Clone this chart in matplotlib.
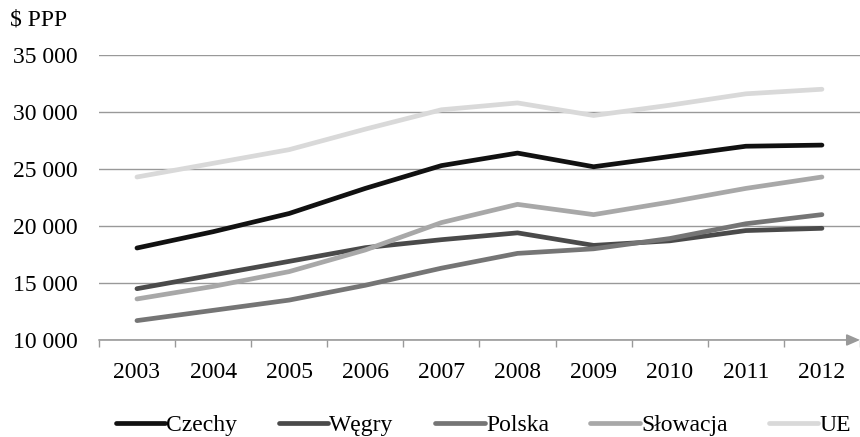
import matplotlib.pyplot as plt
import numpy as np

years = ["2003", "2004", "2005", "2006", "2007", "2008", "2009", "2010", "2011", "2012"]
czechy = [18070, 19500, 21100, 23300, 25300, 26400, 25200, 26100, 27000, 27100]
wegry = [14500, 15700, 16900, 18100, 18800, 19400, 18300, 18700, 19600, 19800]
polska = [11700, 12600, 13500, 14800, 16300, 17600, 18000, 18900, 20200, 21000]
slowacja = [13600, 14700, 16000, 17900, 20300, 21900, 21000, 22100, 23300, 24300]
ue = [24300, 25500, 26700, 28500, 30200, 30800, 29700, 30600, 31600, 32000]

series = [
    ("Czechy", czechy, "#111111"),
    ("Węgry", wegry, "#4a4a4a"),
    ("Polska", polska, "#757575"),
    ("Słowacja", slowacja, "#a8a8a8"),
    ("UE", ue, "#d9d9d9"),
]
y_ticks = [10000, 15000, 20000, 25000, 30000, 35000]

plt.rcParams["font.family"] = ["Liberation Serif", "DejaVu Serif"]

fig = plt.figure(figsize=(8.6, 4.37), dpi=100)
ax = fig.add_axes([0.115, 0.222, 0.885, 0.652])

x = np.arange(len(years))
for name, values, color in series:
    ax.plot(x, values, color=color, lw=3.4, solid_capstyle="round", label=name, zorder=3)

ax.set_xlim(-0.5, len(years) - 0.5)
ax.set_ylim(10000, 35000)
ax.set_yticks(y_ticks)
ax.set_yticklabels([f"{v:,}".replace(",", " ") for v in y_ticks], fontsize=17)
ax.set_xticks(x)
ax.set_xticklabels(years, fontsize=17)
ax.set_xticks(np.arange(-0.5, len(years)), minor=True)
ax.tick_params(axis="x", which="major", length=0, pad=16)
ax.tick_params(axis="x", which="minor", length=5, color="#999999", width=1)
ax.tick_params(axis="y", length=0, pad=15)

ax.grid(axis="y", color="#999999", lw=1)
ax.set_axisbelow(True)
for s in ["top", "right", "left", "bottom"]:
    ax.spines[s].set_visible(False)

# x axis with arrow
ax.annotate("", xy=(1.0, 0), xycoords="axes fraction", xytext=(0, 0),
            arrowprops=dict(arrowstyle="-|>,head_length=0.8,head_width=0.35", color="#999999", lw=1.2,
                            shrinkA=0, shrinkB=0), annotation_clip=False)

fig.text(0.012, 0.955, "$ PPP", fontsize=17, ha="left", va="center")

fig.legend(loc="center", bbox_to_anchor=(0.562, 0.027), ncol=5, frameon=False, fontsize=17,
           handlelength=2.1, handletextpad=0.05, columnspacing=1.75)

fig.savefig("out.png", dpi=100)
